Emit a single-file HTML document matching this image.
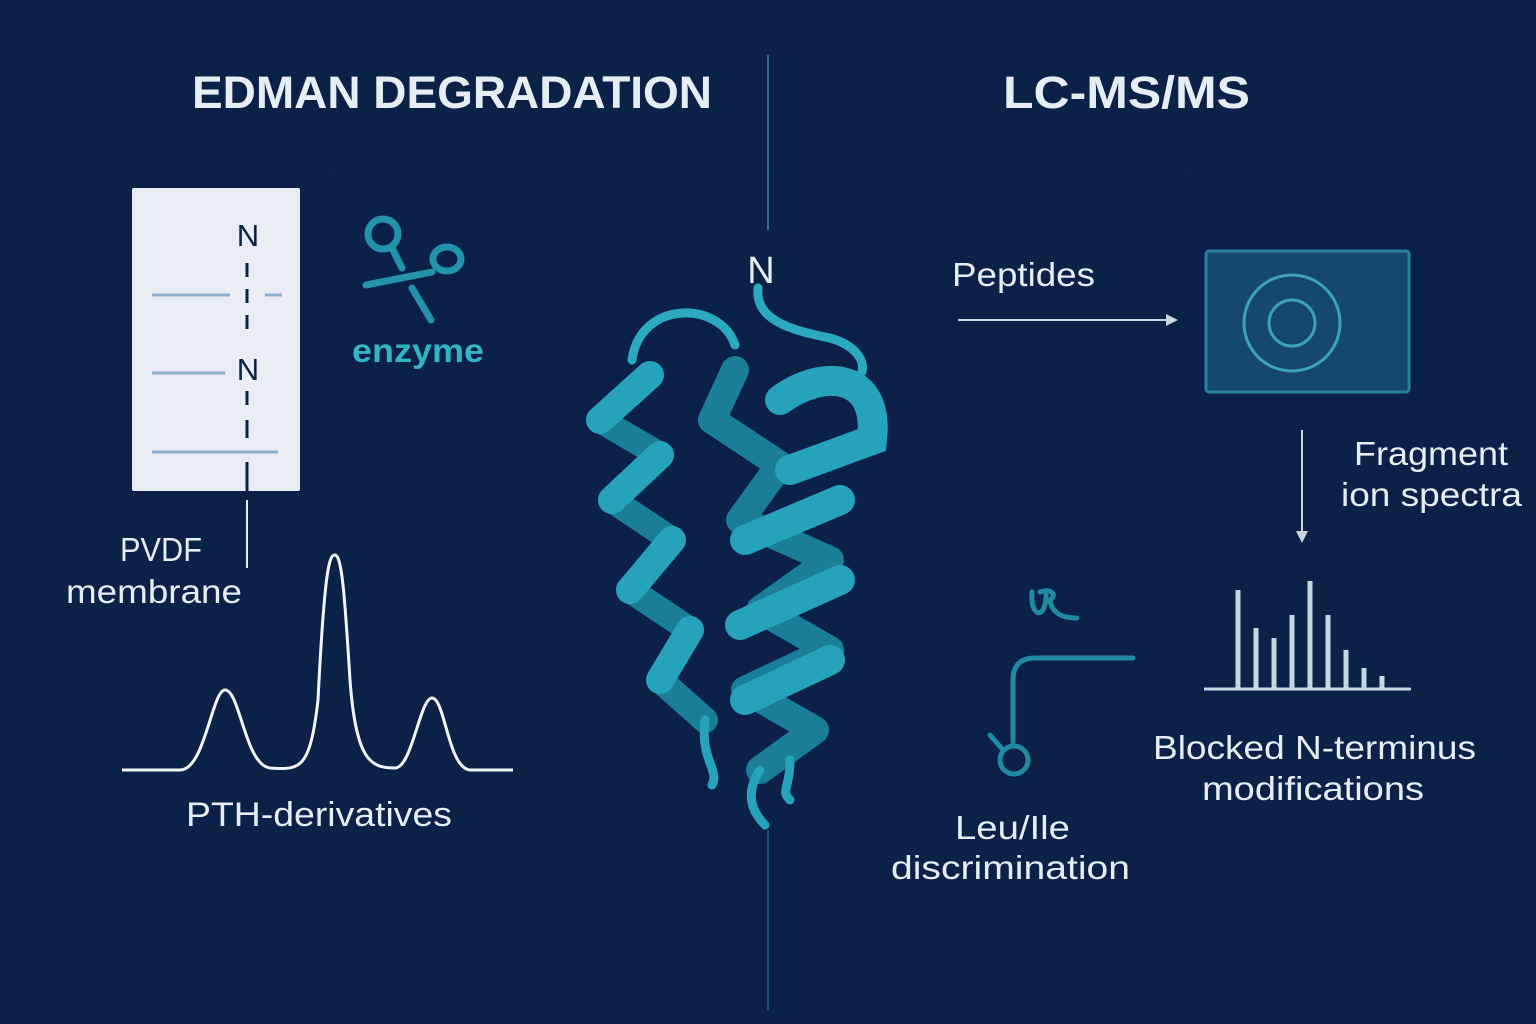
<!DOCTYPE html>
<html><head><meta charset="utf-8"><style>
html,body{margin:0;padding:0;background:#0b2148;}
svg{display:block}
text{font-family:"Liberation Sans",sans-serif;}
</style></head><body>
<svg width="1536" height="1024" viewBox="0 0 1536 1024">
<rect width="1536" height="1024" fill="#0b2148"/>
<g stroke="#12305a" stroke-width="1" opacity="0.5">
<line x1="0" y1="175" x2="1536" y2="175"/><line x1="0" y1="600" x2="1536" y2="600"/>
<line x1="330" y1="0" x2="330" y2="1024"/><line x1="1190" y1="0" x2="1190" y2="1024"/>
</g>
<line x1="768" y1="55" x2="768" y2="230" stroke="#2a6f8c" stroke-width="2"/>
<line x1="768" y1="830" x2="768" y2="1010" stroke="#1d4f70" stroke-width="2"/>
<text x="192" y="108" fill="#e6edf3" font-size="45" font-weight="bold" textLength="520" lengthAdjust="spacingAndGlyphs">EDMAN DEGRADATION</text>
<text x="1003" y="108" fill="#e6edf3" font-size="45" font-weight="bold" textLength="247" lengthAdjust="spacingAndGlyphs">LC-MS/MS</text>
<!-- membrane -->
<rect x="132" y="188" width="168" height="303" fill="#e8eef3" rx="2"/>
<text x="248" y="246" fill="#0b2148" font-size="31" text-anchor="middle">N</text>
<text x="248" y="380" fill="#0b2148" font-size="31" text-anchor="middle">N</text>
<g stroke="#0b2148" stroke-width="3">
<line x1="247" y1="263" x2="247" y2="277"/><line x1="247" y1="289" x2="247" y2="303"/><line x1="247" y1="315" x2="247" y2="329"/>
<line x1="247" y1="391" x2="247" y2="405"/><line x1="247" y1="420" x2="247" y2="438"/>
<line x1="247" y1="462" x2="247" y2="491"/>
</g>
<line x1="247" y1="500" x2="247" y2="568" stroke="#e6edf3" stroke-width="2"/>
<g stroke="#8fb0c9" stroke-width="3"><line x1="152" y1="295" x2="230" y2="295"/><line x1="265" y1="295" x2="282" y2="295"/><line x1="152" y1="373" x2="225" y2="373"/><line x1="152" y1="452" x2="278" y2="452"/></g>
<text x="120" y="561" fill="#e6edf3" font-size="33" textLength="82" lengthAdjust="spacingAndGlyphs">PVDF</text>
<text x="66" y="603" fill="#e6edf3" font-size="33" textLength="176" lengthAdjust="spacingAndGlyphs">membrane</text>
<!-- scissors -->
<g stroke="#2293a8" stroke-width="7" fill="none" stroke-linecap="round">
<circle cx="383" cy="234" r="15"/><line x1="392" y1="248" x2="402" y2="268"/>
<ellipse cx="447" cy="259" rx="14" ry="12"/>
<line x1="366" y1="285" x2="432" y2="272"/><line x1="412" y1="288" x2="431" y2="320"/>
</g>
<text x="352" y="362" fill="#33b3c6" font-size="33" font-weight="bold" textLength="132" lengthAdjust="spacingAndGlyphs">enzyme</text>
<!-- chromatogram -->
<path d="M122 770 L180 770 C205 770 212 690 225 690 C240 690 245 765 270 768 C300 770 310 770 318 700 C325 560 330 555 335 555 C342 555 345 600 350 680 C356 760 370 768 395 768 C412 768 420 698 432 698 C445 698 448 768 470 770 L513 770" stroke="#f2f5f8" stroke-width="3" fill="none"/>
<text x="186" y="826" fill="#e6edf3" font-size="34" textLength="266" lengthAdjust="spacingAndGlyphs">PTH-derivatives</text>
<!-- protein -->
<text x="761" y="283" fill="#e6edf3" font-size="38" text-anchor="middle">N</text>
<g fill="none" stroke-linecap="round">
<path d="M758 288 C755 320 790 330 830 338 C855 345 865 360 862 372" stroke="#2aa9bf" stroke-width="9"/>
<path d="M632 360 C640 300 720 300 735 345" stroke="#2aa9bf" stroke-width="9"/>
<path d="M650 375 L600 420 L660 455 L612 500 L672 540 L630 590 L690 630 L660 680 L705 720" stroke="#1a7f96" stroke-width="26" stroke-linejoin="round"/>
<path d="M650 375 L600 420 M660 455 L612 500 M672 540 L630 590 M690 630 L660 680" stroke="#27a2bb" stroke-width="28"/>
<path d="M705 720 C700 760 720 770 712 785" stroke="#27a2bb" stroke-width="9"/>
<path d="M735 370 L712 420 L780 465 L740 520 L830 560 L760 610 L830 650 L745 690 L815 730 L760 770" stroke="#1a7f96" stroke-width="28" stroke-linejoin="round"/>
<path d="M780 400 C820 370 880 370 872 440 L790 470 M840 500 L745 540 M840 580 L740 625 M830 660 L745 700" stroke="#27a2bb" stroke-width="30"/>
<path d="M760 770 C740 800 760 820 765 825 M790 760 C790 790 780 790 790 800" stroke="#27a2bb" stroke-width="9"/>
</g>
<!-- right side -->
<text x="952" y="286" fill="#e6edf3" font-size="33" textLength="143" lengthAdjust="spacingAndGlyphs">Peptides</text>
<line x1="958" y1="320" x2="1172" y2="320" stroke="#c9d6e0" stroke-width="2"/>
<path d="M1178 320 L1166 314 L1166 326 Z" fill="#c9d6e0"/>
<rect x="1206" y="251" width="203" height="141" fill="#15486a" stroke="#2a7f9a" stroke-width="3" rx="3"/>
<circle cx="1292" cy="323" r="48" fill="none" stroke="#3aa3b8" stroke-width="3"/>
<circle cx="1292" cy="323" r="23" fill="none" stroke="#3aa3b8" stroke-width="3"/>
<line x1="1302" y1="430" x2="1302" y2="535" stroke="#c9d6e0" stroke-width="2"/>
<path d="M1302 543 L1296 531 L1308 531 Z" fill="#c9d6e0"/>
<text x="1354" y="465" fill="#e6edf3" font-size="33" textLength="154" lengthAdjust="spacingAndGlyphs">Fragment</text>
<text x="1341" y="506" fill="#e6edf3" font-size="33" textLength="181" lengthAdjust="spacingAndGlyphs">ion spectra</text>
<g stroke="#c7d8e4" stroke-width="5">
<line x1="1238" y1="689" x2="1238" y2="590"/><line x1="1256" y1="689" x2="1256" y2="628"/><line x1="1274" y1="689" x2="1274" y2="638"/><line x1="1292" y1="689" x2="1292" y2="615"/><line x1="1310" y1="689" x2="1310" y2="581"/><line x1="1328" y1="689" x2="1328" y2="615"/><line x1="1346" y1="689" x2="1346" y2="650"/><line x1="1364" y1="689" x2="1364" y2="668"/><line x1="1382" y1="689" x2="1382" y2="676"/>
</g>
<line x1="1204" y1="689" x2="1411" y2="689" stroke="#c7d8e4" stroke-width="3"/>
<text x="1153" y="759" fill="#e6edf3" font-size="33" textLength="323" lengthAdjust="spacingAndGlyphs">Blocked N-terminus</text>
<text x="1202" y="800" fill="#e6edf3" font-size="33" textLength="222" lengthAdjust="spacingAndGlyphs">modifications</text>
<g stroke="#1f8aa0" stroke-width="5" fill="none" stroke-linecap="round">
<path d="M1032 592 C1030 618 1046 620 1046 595 M1040 592 C1050 588 1058 594 1050 600 C1052 612 1060 618 1077 618"/>
<path d="M1133 658 L1035 658 C1020 658 1013 666 1013 680 L1013 742"/>
<circle cx="1014" cy="760" r="14"/><line x1="1003" y1="750" x2="990" y2="735"/>
</g>
<text x="955" y="839" fill="#e6edf3" font-size="33" textLength="115" lengthAdjust="spacingAndGlyphs">Leu/Ile</text>
<text x="891" y="879" fill="#e6edf3" font-size="33" textLength="239" lengthAdjust="spacingAndGlyphs">discrimination</text>
</svg>
</body></html>
